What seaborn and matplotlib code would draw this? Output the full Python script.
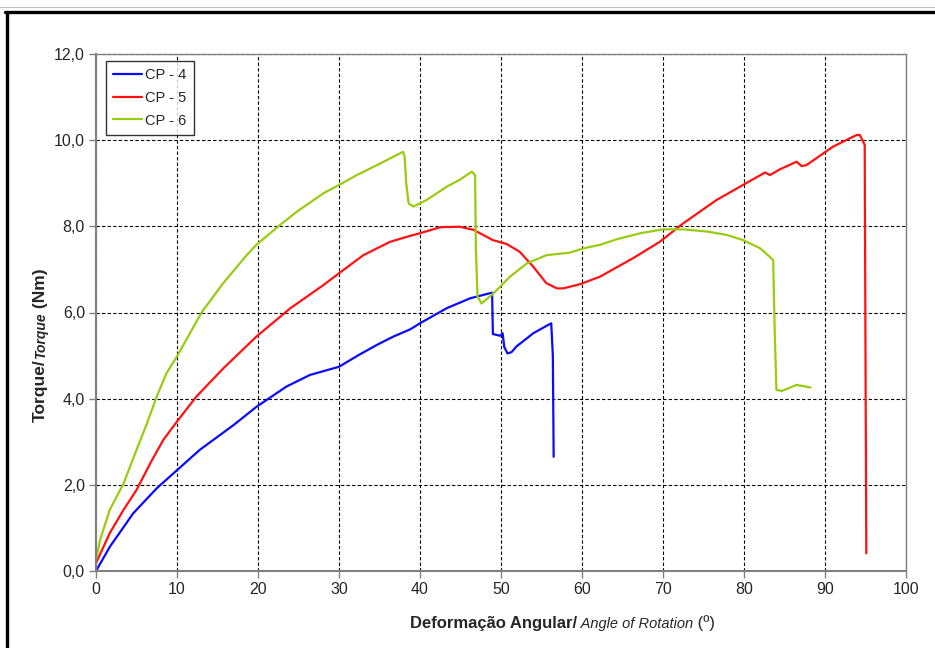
import numpy as np
import pandas as pd
import matplotlib
matplotlib.use("Agg")
import matplotlib.pyplot as plt
from matplotlib.lines import Line2D
from matplotlib.ticker import FuncFormatter
import seaborn as sns

# torque vs angle of rotation
x_cp4 = [0, 1.7, 4.6, 7.5, 10.0, 12.8, 17.0, 19.8, 23.5, 26.4, 30.0, 32.4, 34.7, 36.7, 38.8,
         40.0, 43.3, 46.2, 48.9, 49.0, 49.9, 50.2, 50.4, 50.8, 51.3, 51.9, 54.0, 56.2, 56.4, 56.5]
y_cp4 = [0, 0.56, 1.34, 1.92, 2.34, 2.81, 3.39, 3.81, 4.28, 4.55, 4.74, 5.01, 5.25, 5.44, 5.61,
         5.75, 6.10, 6.33, 6.46, 5.50, 5.46, 5.52, 5.20, 5.05, 5.08, 5.21, 5.52, 5.75, 5.0, 2.65]

x_cp5 = [0, 1.7, 3.4, 5.0, 6.7, 8.3, 10.0, 12.4, 15.7, 19.8, 24.0, 28.1, 30.0, 33.0, 36.3,
         38.8, 40.0, 42.5, 44.9, 46.6, 49.0, 50.7, 52.3, 54.0, 55.6, 56.9, 57.7, 59.8, 62.2, 66.3,
         69.6, 72.5, 76.6, 79.5, 82.6, 83.2, 84.4, 86.5, 87.1, 87.7, 91.0, 93.9, 94.3, 94.9, 95.0,
         95.1]
y_cp5 = [0.18, 0.88, 1.42, 1.88, 2.50, 3.04, 3.47, 4.05, 4.70, 5.44, 6.10, 6.64, 6.91, 7.33, 7.64,
         7.78, 7.84, 7.98, 7.99, 7.92, 7.68, 7.59, 7.41, 7.06, 6.68, 6.56, 6.56, 6.66, 6.83, 7.26,
         7.64, 8.07, 8.61, 8.92, 9.25, 9.19, 9.32, 9.50, 9.40, 9.42, 9.85, 10.12, 10.12, 9.89, 5.0,
         0.41]

x_cp6 = [0, 0.5, 1.7, 3.4, 5.0, 6.3, 7.5, 8.7, 10.0, 11.6, 13.1, 15.7, 18.6, 19.8, 22.7,
         24.8, 28.1, 30.0, 32.2, 35.1, 37.9, 38.1, 38.3, 38.6, 39.2, 40.8, 43.3, 44.9, 46.4, 46.8,
         46.9, 47.1, 47.6, 49.1, 51.1, 53.2, 55.6, 58.5, 60.2, 62.2, 64.3, 67.2, 70.0, 72.5, 75.4,
         77.9, 79.9, 82.0, 83.6, 83.8, 84.0, 84.7, 86.5, 88.2]
y_cp6 = [0.25, 0.72, 1.42, 2.03, 2.81, 3.43, 4.05, 4.59, 4.98, 5.52, 6.02, 6.68, 7.33, 7.57, 8.03,
         8.34, 8.77, 8.96, 9.19, 9.46, 9.73, 9.62, 9.0, 8.53, 8.46, 8.61, 8.92, 9.08, 9.27, 9.19,
         7.5, 6.37, 6.21, 6.45, 6.83, 7.14, 7.33, 7.39, 7.49, 7.57, 7.70, 7.84, 7.93, 7.93, 7.88,
         7.80, 7.68, 7.49, 7.22, 5.5, 4.20, 4.18, 4.32, 4.26]

series_names = ["CP - 4", "CP - 5", "CP - 6"]
series_colors = ["#0a0aff", "#ff1111", "#99cc11"]
x_ticks = list(range(0, 101, 10))
y_ticks = [0, 2, 4, 6, 8, 10, 12]

frames = []
for name, xs, ys in zip(series_names, [x_cp4, x_cp5, x_cp6], [y_cp4, y_cp5, y_cp6]):
    frames.append(pd.DataFrame({"angle": xs, "torque": ys, "serie": name}))
df = pd.concat(frames, ignore_index=True)

sns.set_style("white")
plt.rcParams["font.family"] = ["Liberation Sans", "DejaVu Sans"]

fig = plt.figure(figsize=(9.35, 6.48), dpi=100)
ax = fig.add_axes([96 / 935, 77 / 648, 810 / 935, 517 / 648])

sns.lineplot(data=df, x="angle", y="torque", hue="serie", palette=series_colors,
             sort=False, estimator=None, linewidth=1.6, ax=ax)

ax.set_xlim(0, 100)
ax.set_ylim(0, 12)
ax.set_xticks(x_ticks)
ax.set_yticks(y_ticks)
ax.yaxis.set_major_formatter(FuncFormatter(lambda v, p: f"{v:.1f}".replace(".", ",")))
ax.tick_params(axis="both", labelsize=11.5, direction="out", length=5, width=1,
               color="#808080", pad=3, bottom=True, left=True)
ax.grid(True, color="black", linestyle=(0, (3, 2)), linewidth=0.8)
for side, sp in ax.spines.items():
    sp.set_visible(True)
    sp.set_color("#808080")
    sp.set_linewidth(1.5 if side in ("left", "bottom") else 1.0)
ax.set_xlabel("")
ax.set_ylabel("")

leg = ax.legend(loc="upper left", bbox_to_anchor=(0.012, 0.987), borderaxespad=0,
                fontsize=10.5, frameon=True, fancybox=False, edgecolor="black",
                handlelength=2.0, labelspacing=0.6, handletextpad=0.2, borderpad=0.5)
leg.get_frame().set_linewidth(1.0)
for h in leg.get_lines():
    h.set_linewidth(1.6)

# x axis title in three pieces
t1 = fig.text(410 / 935, 1 - 628 / 648, "Deformação Angular/", fontsize=12,
              fontweight="bold", ha="left", va="baseline")
t2 = ax.annotate(" Angle of Rotation", xy=(1, 0), xycoords=t1, fontsize=10.5,
                 style="italic", ha="left", va="bottom", annotation_clip=False)
ax.annotate(" (º)", xy=(1, 0), xycoords=t2, fontsize=12, ha="left", va="bottom",
            annotation_clip=False)

# y axis title in three pieces
u1 = fig.text(48 / 935, 1 - 422 / 648, "Torque/", fontsize=12.5, fontweight="bold",
              rotation=90, ha="right", va="bottom")
u2 = ax.annotate("Torque", xy=(1, 1), xycoords=u1, fontsize=10, style="italic",
                 fontweight="bold", rotation=90, ha="right", va="bottom",
                 annotation_clip=False)
ax.annotate(" (Nm)", xy=(1, 1), xycoords=u2, fontsize=12.5, fontweight="bold",
            rotation=90, ha="right", va="bottom", annotation_clip=False)

# page frame
fig.add_artist(Line2D([0, 1], [1 - 7 / 648, 1 - 7 / 648], transform=fig.transFigure,
                      color="#c0c0c0", linewidth=0.8))
fig.add_artist(Line2D([5 / 935, 1], [1 - 11.5 / 648, 1 - 11.5 / 648],
                      transform=fig.transFigure, color="black", linewidth=2.4))
fig.add_artist(Line2D([6.5 / 935, 6.5 / 935], [0, 1 - 11.5 / 648],
                      transform=fig.transFigure, color="black", linewidth=2.4))

fig.savefig("out.png", dpi=100)
